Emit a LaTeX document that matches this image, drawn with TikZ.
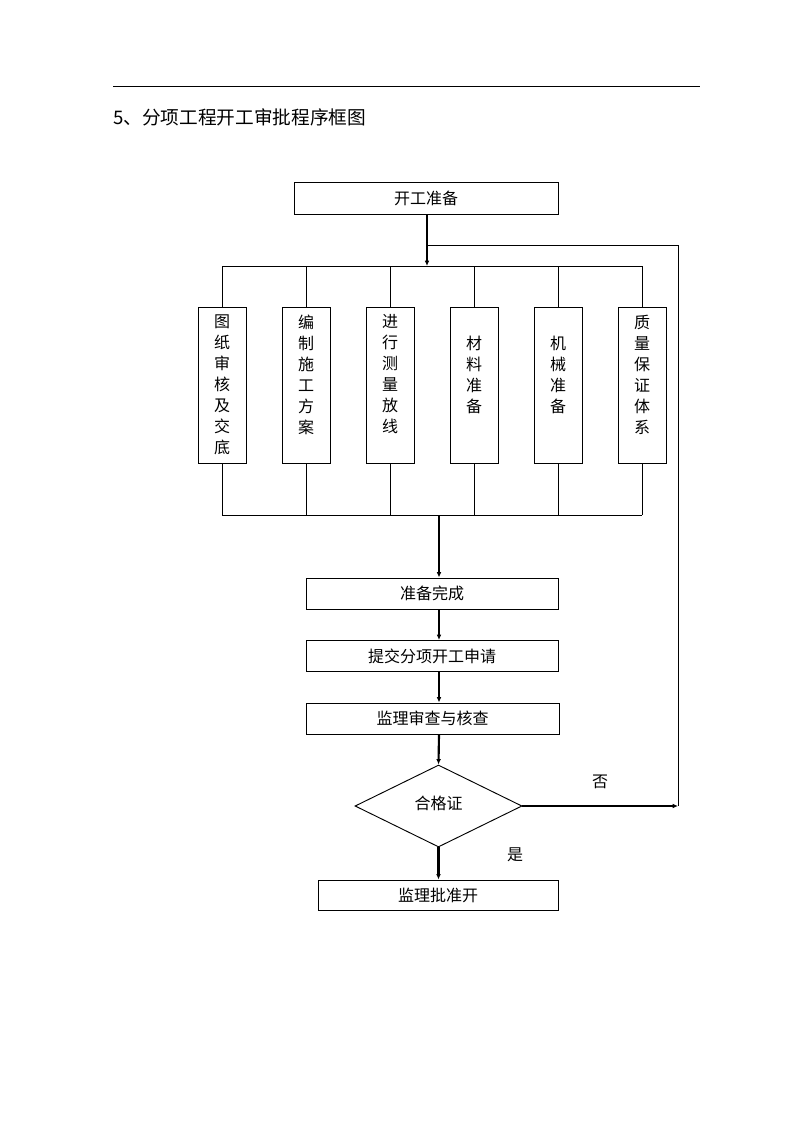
\documentclass[tikz,border=0pt]{standalone}
\usepackage{fontspec}
\setmainfont{Liberation Serif}
\newfontfamily\cjk{Noto Sans CJK SC}
\usetikzlibrary{arrows.meta,shapes}

\newcommand{\gap}{\phantom{备}}

\begin{document}
\begin{tikzpicture}[x=0.75pt,y=-0.75pt]
		\tikzstyle{box}=[draw, line width=0.7pt, inner sep=0pt, font=\cjk\fontsize{12pt}{15.75pt}\selectfont]
		\tikzstyle{widebox}=[box, minimum height=23.25pt]
		\tikzstyle{tallbox}=[box, minimum width=36pt, minimum height=117pt, align=center]
		\tikzstyle{check}=[box, diamond, minimum width=125.25pt, minimum height=61.5pt]
		\tikzstyle{flow}=[line width=1.6pt, -{Latex[length=4pt,width=3.5pt]}]
		\tikzstyle{link}=[line width=0.7pt]
		\tikzstyle{note}=[font=\cjk\fontsize{12pt}{14pt}\selectfont]

		\useasboundingbox (0,0) rectangle (794,1123);

		% heading
		\draw [link] (113,86) -- (700,86);
		\node (title) [anchor=west, inner sep=0pt, font=\cjk\fontsize{14pt}{16pt}\selectfont] at (113,117) {5、分项工程开工审批程序框图};

		% start
		\node (start) [widebox, minimum width=198pt, minimum height=24pt] at (426,198) {开工准备};

		% six parallel tasks
		\node (t1) [tallbox] at (222,385) {图\\纸\\审\\核\\及\\交\\底};
		\node (t2) [tallbox] at (306,385) {编\\制\\施\\工\\方\\案\\\gap};
		\node (t3) [tallbox] at (390,385) {进\\行\\测\\量\\放\\线\\\gap};
		\node (t4) [tallbox] at (474,385) {\gap\\材\\料\\准\\备\\\gap\\\gap};
		\node (t5) [tallbox] at (558,385) {\gap\\机\\械\\准\\备\\\gap\\\gap};
		\node (t6) [tallbox] at (642,385) {质\\量\\保\\证\\体\\系\\\gap};

		\coordinate (split) at (427,266);
		\coordinate (join) at (439,515);
		\coordinate (loop) at (678,245);

		\draw [flow] (start.south -| split) -- (split);
		\draw [link] (t1.north |- split) -- (t6.north |- split);
		\draw [link] (t1.south |- join) -- (t6.south |- join);
		\foreach \t in {t1,t2,t3,t4,t5,t6} {
			\draw [link] (\t.north |- split) -- (\t.north);
			\draw [link] (\t.south) -- (\t.south |- join);
		}

		% approval chain
		\node (done) [widebox, minimum width=189pt] at (432,593.5) {准备完成};
		\node (apply) [widebox, minimum width=189pt] at (432,656) {提交分项开工申请};
		\node (review) [widebox, minimum width=189.75pt] at (432.5,718.5) {监理审查与核查};
		\node (ok) [check] at (438.5,806) {\raisebox{4.5pt}{合格证}};
		\node (approve) [widebox, minimum width=180pt, minimum height=22.5pt] at (438,895) {监理批准开};

		\draw [flow] (join) -- (join |- done.north);
		\draw [flow] (done.south -| join) -- (join |- apply.north);
		\draw [flow] (apply.south -| join) -- (join |- review.north);
		\draw [flow] (review.south -| join) -- (ok.north);
		\draw [flow] (ok.south) -- (ok.south |- approve.north);

		% back to start
		\draw [flow] (ok.east) -- (ok.east -| loop);
		\draw [link] (ok.east -| loop) -- (loop) -- (loop -| split);

		\node (no) [note] at (600,782) {否};
		\node (yes) [note] at (515,855) {是};
	\end{tikzpicture}
\end{document}
